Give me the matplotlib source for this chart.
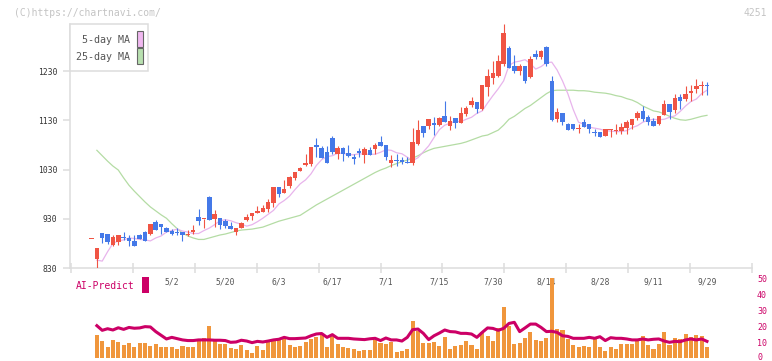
import numpy as np
import matplotlib
matplotlib.use("Agg")
import matplotlib.pyplot as plt
import matplotlib.transforms as mtransforms
from matplotlib.patches import Rectangle

# daily prices, one entry per trading day
opens = [889, 849, 901, 899, 877, 883, 893, 891, 885, 896,
         903, 900, 923, 919, 911, 906, 902, 904, 897, 904,
         933, 929, 975, 930, 931, 926, 915, 904, 912, 927,
         935, 942, 944, 949, 961, 994, 983, 997, 1013, 1027,
         1039, 1041, 1079, 1073, 1065, 1094, 1062, 1073, 1063, 1055,
         1067, 1060, 1069, 1072, 1086, 1080, 1044, 1048, 1049, 1046,
         1044, 1082, 1118, 1118, 1124, 1121, 1138, 1118, 1134, 1125,
         1143, 1161, 1167, 1153, 1198, 1216, 1220, 1245, 1277, 1240,
         1231, 1240, 1218, 1264, 1259, 1279, 1210, 1133, 1145, 1122,
         1122, 1113, 1126, 1122, 1105, 1106, 1099, 1110, 1108, 1108,
         1115, 1121, 1134, 1149, 1136, 1128, 1123, 1141, 1163, 1151,
         1177, 1173, 1185, 1194, 1199, 1200]
highs = [889, 871, 901, 899, 896, 898, 903, 897, 898, 900,
         905, 919, 927, 919, 913, 909, 912, 904, 907, 917,
         950, 930, 976, 948, 931, 929, 923, 912, 924, 939,
         942, 956, 958, 971, 994, 994, 1009, 1017, 1025, 1035,
         1061, 1075, 1094, 1078, 1078, 1098, 1078, 1076, 1080, 1061,
         1073, 1075, 1076, 1084, 1098, 1080, 1060, 1061, 1056, 1056,
         1115, 1130, 1118, 1132, 1136, 1137, 1169, 1138, 1134, 1157,
         1159, 1177, 1167, 1201, 1234, 1250, 1262, 1325, 1281, 1262,
         1245, 1240, 1260, 1273, 1273, 1281, 1220, 1155, 1145, 1124,
         1122, 1122, 1132, 1122, 1113, 1106, 1113, 1112, 1122, 1124,
         1131, 1132, 1149, 1159, 1140, 1135, 1138, 1171, 1163, 1183,
         1184, 1199, 1201, 1214, 1210, 1208]
lows = [889, 831, 881, 879, 875, 877, 887, 875, 875, 889,
        885, 896, 908, 899, 903, 896, 898, 885, 894, 899,
        917, 912, 927, 914, 910, 912, 910, 896, 912, 926,
        927, 941, 943, 944, 954, 975, 983, 992, 1008, 1026,
        1037, 1037, 1056, 1054, 1044, 1062, 1052, 1048, 1055, 1042,
        1056, 1044, 1060, 1062, 1078, 1050, 1036, 1038, 1042, 1044,
        1040, 1080, 1095, 1113, 1101, 1118, 1127, 1110, 1114, 1125,
        1139, 1157, 1144, 1151, 1179, 1203, 1217, 1240, 1236, 1226,
        1222, 1205, 1215, 1254, 1254, 1241, 1128, 1127, 1121, 1111,
        1111, 1105, 1117, 1105, 1099, 1096, 1099, 1096, 1103, 1103,
        1103, 1112, 1130, 1128, 1121, 1119, 1120, 1141, 1132, 1145,
        1153, 1169, 1169, 1185, 1181, 1181]
closes = [889, 870, 891, 883, 893, 896, 891, 885, 875, 889,
          885, 919, 908, 914, 903, 900, 901, 896, 898, 907,
          926, 930, 927, 940, 917, 915, 910, 912, 921, 933,
          942, 946, 952, 964, 994, 980, 990, 1015, 1025, 1033,
          1043, 1075, 1076, 1054, 1044, 1066, 1073, 1062, 1057, 1052,
          1063, 1071, 1060, 1080, 1078, 1055, 1049, 1047, 1045, 1044,
          1086, 1110, 1105, 1132, 1121, 1134, 1127, 1128, 1125, 1145,
          1155, 1169, 1153, 1201, 1220, 1226, 1250, 1307, 1236, 1231,
          1240, 1210, 1254, 1259, 1270, 1245, 1130, 1147, 1127, 1111,
          1113, 1114, 1117, 1113, 1104, 1096, 1112, 1111, 1110, 1116,
          1126, 1132, 1145, 1132, 1126, 1119, 1138, 1163, 1147, 1175,
          1170, 1184, 1190, 1199, 1200, 1199]

# moving averages as drawn on the chart
ma5 = [np.nan, 846, 844, 863, 880, 885, 887, 891, 890, 888,
       887, 885, 891, 895, 903, 906, 909, 905, 903, 900,
       900, 906, 911, 918, 926, 928, 926, 922, 919, 915,
       918, 924, 931, 939, 947, 960, 967, 976, 989, 1001,
       1009, 1021, 1038, 1050, 1056, 1058, 1063, 1063, 1060, 1060,
       1062, 1061, 1061, 1061, 1065, 1070, 1069, 1064, 1062, 1055,
       1048, 1054, 1066, 1078, 1095, 1111, 1120, 1124, 1128, 1127,
       1132, 1136, 1144, 1149, 1165, 1180, 1194, 1210, 1241, 1248,
       1250, 1253, 1245, 1234, 1239, 1247, 1248, 1232, 1210, 1184,
       1152, 1126, 1122, 1116, 1114, 1112, 1109, 1108, 1107, 1107,
       1109, 1115, 1119, 1126, 1130, 1132, 1131, 1132, 1136, 1139,
       1148, 1159, 1168, 1173, 1184, 1191]
ma25 = [np.nan, 1069, 1058, 1047, 1037, 1029, 1013, 998, 986, 975,
        964, 954, 946, 938, 931, 920, 910, 901, 895, 891,
        888, 888, 891, 894, 897, 899, 902, 905, 907, 908,
        909, 911, 913, 917, 921, 925, 928, 931, 934, 937,
        944, 951, 958, 964, 970, 976, 982, 988, 994, 1000,
        1006, 1012, 1018, 1024, 1029, 1033, 1038, 1042, 1046, 1049,
        1053, 1058, 1064, 1069, 1073, 1075, 1077, 1079, 1081, 1083,
        1086, 1090, 1094, 1098, 1100, 1105, 1110, 1120, 1132, 1138,
        1146, 1154, 1160, 1168, 1176, 1184, 1190, 1191, 1191, 1191,
        1191, 1190, 1190, 1189, 1187, 1186, 1185, 1183, 1180, 1178,
        1174, 1171, 1166, 1159, 1154, 1149, 1147, 1143, 1138, 1134,
        1131, 1130, 1132, 1135, 1138, 1140]

# AI-Predict panel, starts on the second trading day
ai_bars = [14.4, 10.6, 6.9, 11.3, 10.0, 8.1, 9.4, 6.9, 9.4, 9.4,
           7.5, 8.8, 6.9, 6.9, 6.9, 5.6, 7.5, 6.9, 6.9, 10.6,
           12.5, 20.0, 10.6, 8.8, 8.8, 6.3, 5.6, 8.1, 5.0, 3.1,
           7.5, 5.0, 10.0, 11.3, 11.3, 12.5, 8.1, 6.9, 7.5, 10.0,
           11.9, 13.1, 14.4, 6.9, 13.8, 8.8, 6.9, 6.3, 5.6, 4.4,
           5.0, 5.0, 11.3, 9.4, 8.8, 10.0, 3.8, 4.4, 5.6, 23.1,
           16.9, 9.4, 9.4, 10.0, 7.5, 13.1, 5.6, 7.5, 8.1, 10.6,
           8.1, 5.6, 16.3, 13.8, 10.6, 18.8, 31.9, 20.0, 8.8, 9.4,
           12.5, 16.3, 11.3, 10.6, 12.5, 50.0, 18.1, 17.5, 11.9, 8.1,
           6.9, 7.5, 6.9, 13.1, 6.9, 4.4, 6.9, 5.6, 8.8, 8.8,
           8.8, 10.6, 13.8, 8.1, 5.6, 8.8, 16.3, 8.1, 12.5, 11.9,
           15.0, 13.1, 14.4, 13.8, 6.9]
ai_line = [20.2, 17.3, 18.3, 17.5, 18.9, 17.9, 19.1, 18.6, 18.8, 19.6,
           19.4, 16.5, 14.2, 11.9, 12.9, 12.1, 11.3, 10.9, 10.9, 11.3,
           11.3, 11.3, 11.1, 11.1, 10.9, 9.8, 10.0, 11.1, 10.6, 9.6,
           10.4, 10.0, 10.6, 11.3, 11.7, 12.9, 12.1, 12.1, 12.3, 12.5,
           13.9, 15.0, 15.3, 12.9, 14.6, 12.3, 12.3, 12.3, 11.9, 11.7,
           11.5, 12.0, 12.3, 10.9, 12.5, 11.3, 11.3, 10.6, 12.9, 17.7,
           18.1, 15.4, 11.5, 13.9, 15.6, 17.5, 16.5, 16.3, 15.4, 15.4,
           15.0, 12.9, 16.0, 18.8, 18.5, 17.3, 18.5, 21.6, 22.3, 16.5,
           18.8, 21.2, 21.2, 19.1, 16.5, 16.7, 16.0, 13.9, 13.5, 12.3,
           12.3, 12.3, 12.9, 12.3, 13.3, 10.9, 12.7, 12.3, 12.3, 11.9,
           11.3, 11.3, 11.9, 11.3, 11.7, 11.9, 10.6, 9.8, 10.4, 10.2,
           11.3, 11.9, 11.3, 11.9, 10.4]

date_labels = ["5/2", "5/20", "6/3", "6/17", "7/1", "7/15",
               "7/30", "8/14", "8/28", "9/11", "9/29"]
date_index = [15, 25, 35, 45, 55, 65, 75, 85, 95, 105, 115]
price_ticks = [830, 930, 1030, 1130, 1230]
ai_ticks = [0, 10, 20, 30, 40, 50]

RED = "#f05444"
BLUE = "#4479e8"
GRID = "#dddddd"
CRIMSON = "#cc0066"
MONO = "DejaVu Sans Mono"

W, H = 772, 361
XLIM = (-4.02, 123.41)

fig = plt.figure(figsize=(W / 100, H / 100), dpi=100)

# price chart
ax = fig.add_axes([70 / W, 1 - 268 / H, 682 / W, 248 / H])
idx = np.arange(len(closes))
o = np.array(opens, dtype=float)
c = np.array(closes, dtype=float)
colors = np.where(c >= o, RED, BLUE)

ax.plot(idx, ma25, color="#b4dca4", lw=0.9, zorder=2)
ax.plot(idx, ma5, color="#e8b4ec", lw=0.9, zorder=2)
ax.vlines(idx, lows, highs, colors=colors, lw=0.8, zorder=3)
ax.bar(idx, np.maximum(np.abs(c - o), 1.8), bottom=np.minimum(o, c),
       width=0.84, color=colors, zorder=3)

ax.set_xlim(*XLIM)
ax.set_ylim(830, 1333.6)
ax.set_yticks(price_ticks)
ax.set_yticklabels([str(p) for p in price_ticks], family=MONO)
ax.tick_params(axis="y", length=5, width=1.1, color=GRID, pad=4,
               labelsize=5.8, labelcolor="#333333")
ax.set_xticks(np.linspace(-3.83, 123.41, 12))
ax.set_xticklabels([])
ax.tick_params(axis="x", which="major", direction="inout", length=7,
               width=1.1, color=GRID)
ax.set_xticks(date_index, minor=True)
ax.set_xticklabels(date_labels, minor=True, family=MONO)
ax.tick_params(axis="x", which="minor", length=0, pad=7,
               labelsize=5.8, labelcolor="#555555")
for side in ["top", "right"]:
    ax.spines[side].set_visible(False)
for side in ["left", "bottom"]:
    ax.spines[side].set_color(GRID)
    ax.spines[side].set_linewidth(1.1)
ax.spines["left"].set_bounds(830, 1325)

# AI-Predict panel (transparent so the date labels above stay visible)
ax2 = fig.add_axes([70 / W, 1 - 358 / H, 682 / W, 80 / H])
ax2.patch.set_visible(False)
vidx = np.arange(1, len(closes))
ax2.bar(vidx, ai_bars, width=0.76, color="#f0963c", zorder=1)
ax2.plot(vidx, ai_line, color=CRIMSON, lw=2.2, zorder=2)
ax2.set_xlim(*XLIM)
ax2.set_ylim(0, 50)
ax2.set_xticks([])
ax2.yaxis.tick_right()
ax2.set_yticks(ai_ticks)
ax2.set_yticklabels([str(t) for t in ai_ticks], family=MONO)
ax2.tick_params(axis="y", length=0, pad=3.6, labelsize=6, labelcolor=CRIMSON)
for s in ax2.spines.values():
    s.set_visible(False)
# lift the "0" a little so it stays inside the image
zero_label = ax2.get_yticklabels()[0]
zero_label.set_transform(zero_label.get_transform() +
                         mtransforms.ScaledTranslation(0, 2 / 100, fig.dpi_scale_trans))

# header texts
fig.text(14 / W, 1 - 12.5 / H, "(C)https://chartnavi.com/", family=MONO,
         fontsize=7, color="#c4c4c4", ha="left", va="center")
fig.text(767 / W, 1 - 12.5 / H, "4251", family=MONO,
         fontsize=7, color="#c4c4c4", ha="right", va="center")

# legend box
fig.patches.append(Rectangle((70 / W, 1 - 71 / H), 78 / W, 47 / H,
                             transform=fig.transFigure, facecolor="white",
                             edgecolor=GRID, lw=1.1, zorder=5))
fig.text(130 / W, 1 - 40 / H, "5-day MA", family=MONO, fontsize=7.2,
         color="#555555", ha="right", va="center", zorder=6)
fig.text(130 / W, 1 - 57 / H, "25-day MA", family=MONO, fontsize=7.2,
         color="#555555", ha="right", va="center", zorder=6)
fig.patches.append(Rectangle((137 / W, 1 - 46.5 / H), 5.5 / W, 15 / H,
                             transform=fig.transFigure, facecolor="#f0b8f0",
                             edgecolor="#666666", lw=0.8, zorder=6))
fig.patches.append(Rectangle((137 / W, 1 - 63.5 / H), 5.5 / W, 15 / H,
                             transform=fig.transFigure, facecolor="#b8e0b0",
                             edgecolor="#666666", lw=0.8, zorder=6))

# AI-Predict label
fig.text(76 / W, 1 - 286 / H, "AI-Predict", family=MONO, fontsize=7,
         color=CRIMSON, ha="left", va="center")
fig.patches.append(Rectangle((142 / W, 1 - 293 / H), 6.5 / W, 16 / H,
                             transform=fig.transFigure, facecolor=CRIMSON,
                             edgecolor="none", zorder=6))

fig.savefig("out.png", dpi=100)
